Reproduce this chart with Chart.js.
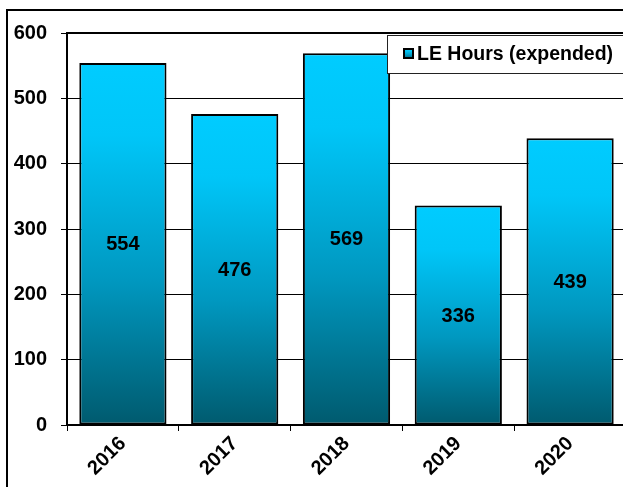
<!DOCTYPE html>
<html>
<head>
<meta charset="utf-8">
<script src="https://cdn.jsdelivr.net/npm/chart.js@4.4.1/dist/chart.umd.min.js"></script>
<style>
  html, body { margin: 0; padding: 0; background: #fff; overflow: hidden; }
  #wrap { width: 626px; height: 487px; position: relative; }
</style>
</head>
<body>
<div id="wrap"><canvas id="chart"></canvas></div>
<script>
// données
const years = ["2016", "2017", "2018", "2019", "2020"];
const leHours = [554, 476, 569, 336, 439];
const seriesLabel = "LE Hours (expended)";
const yTicks = [0, 100, 200, 300, 400, 500, 600];

const FONT = "'Liberation Sans', Arial, sans-serif";

// dégradé vertical pour chaque barre (cyan en haut, bleu pétrole en bas)
function barGradient(c, top, bottom) {
    const g = c.createLinearGradient(0, top, 0, bottom);
    g.addColorStop(0, "#00ccff");
    g.addColorStop(0.2, "#00c6f8");
    g.addColorStop(0.6, "#0098c0");
    g.addColorStop(1, "#005a6e");
    return g;
}

// cadre extérieur + bord haut du graphe + légende + valeurs au milieu des barres
const decorPlugin = {
    id: "decor",
    beforeDraw(chart) {
        const c = chart.ctx;
        c.save();
        c.strokeStyle = "#000";
        c.lineWidth = 2;
        c.beginPath();
        c.moveTo(7, 490);
        c.lineTo(7, 10);
        c.lineTo(640, 10);
        c.stroke();
        c.restore();
    },
    afterDatasetsDraw(chart) {
        const c = chart.ctx;
        const area = chart.chartArea;
        c.save();
        c.strokeStyle = "#000";
        c.lineWidth = 2;
        c.beginPath();
        c.moveTo(area.left, area.top);
        c.lineTo(area.right, area.top);
        c.stroke();

        // valeurs
        const meta = chart.getDatasetMeta(0);
        c.fillStyle = "#000";
        c.font = "bold 20px " + FONT;
        c.textAlign = "center";
        c.textBaseline = "middle";
        meta.data.forEach((bar, i) => {
            c.fillText(String(chart.data.datasets[0].data[i]), bar.x, (bar.y + bar.base) / 2 + 1);
        });

        // légende
        c.fillStyle = "#fff";
        c.fillRect(387, 35, 260, 38);
        c.strokeStyle = "#222";
        c.lineWidth = 1;
        c.strokeRect(387.5, 35.5, 260, 38);
        c.fillStyle = barGradient(c, 49, 59);
        c.fillRect(404, 49, 9, 9);
        c.lineWidth = 2;
        c.strokeStyle = "#000";
        c.strokeRect(404, 49, 9, 9);
        c.fillStyle = "#000";
        c.font = "bold 19.5px " + FONT;
        c.textAlign = "left";
        c.textBaseline = "middle";
        c.fillText(chart.data.datasets[0].label, 417, 55);
        c.restore();
    }
};

const ctx = document.getElementById("chart").getContext("2d");
new Chart(ctx, {
    type: "bar",
    data: {
        labels: years,
        datasets: [{
            label: seriesLabel,
            data: leHours,
            backgroundColor: function (context) {
                const chart = context.chart;
                if (!chart.chartArea) return "#00ccff";
                const y = chart.scales.y;
                const top = y.getPixelForValue(context.raw);
                const bottom = y.getPixelForValue(0);
                return barGradient(chart.ctx, top, bottom);
            },
            borderColor: "#000",
            borderWidth: 2,
            borderSkipped: false,
            barPercentage: 0.78,
            categoryPercentage: 1
        }]
    },
    options: {
        responsive: true,
        maintainAspectRatio: false,
        animation: false,
        devicePixelRatio: 1,
        layout: { padding: { left: 0, top: 33, right: 0, bottom: 0 } },
        plugins: {
            legend: { display: false },
            tooltip: { enabled: false }
        },
        scales: {
            x: {
                grid: {
                    display: true,
                    drawOnChartArea: false,
                    drawTicks: true,
                    tickLength: 6,
                    color: "#000",
                    offset: true
                },
                border: { display: true, color: "#000", width: 2 },
                ticks: {
                    color: "#000",
                    font: { family: FONT, size: 20, weight: "bold" },
                    maxRotation: 45,
                    minRotation: 45,
                    padding: 1
                },
                afterFit(scale) { scale.height = 62; }
            },
            y: {
                min: 0,
                max: 600,
                afterBuildTicks(scale) {
                    scale.ticks = yTicks.map(v => ({ value: v }));
                },
                grid: {
                    color: "#000",
                    lineWidth: 1,
                    tickLength: 6
                },
                border: { display: true, color: "#000", width: 2 },
                ticks: {
                    color: "#000",
                    font: { family: FONT, size: 20, weight: "bold" },
                    padding: 14
                },
                afterFit(scale) { scale.width = 67; }
            }
        }
    },
    plugins: [decorPlugin]
});
</script>
</body>
</html>
